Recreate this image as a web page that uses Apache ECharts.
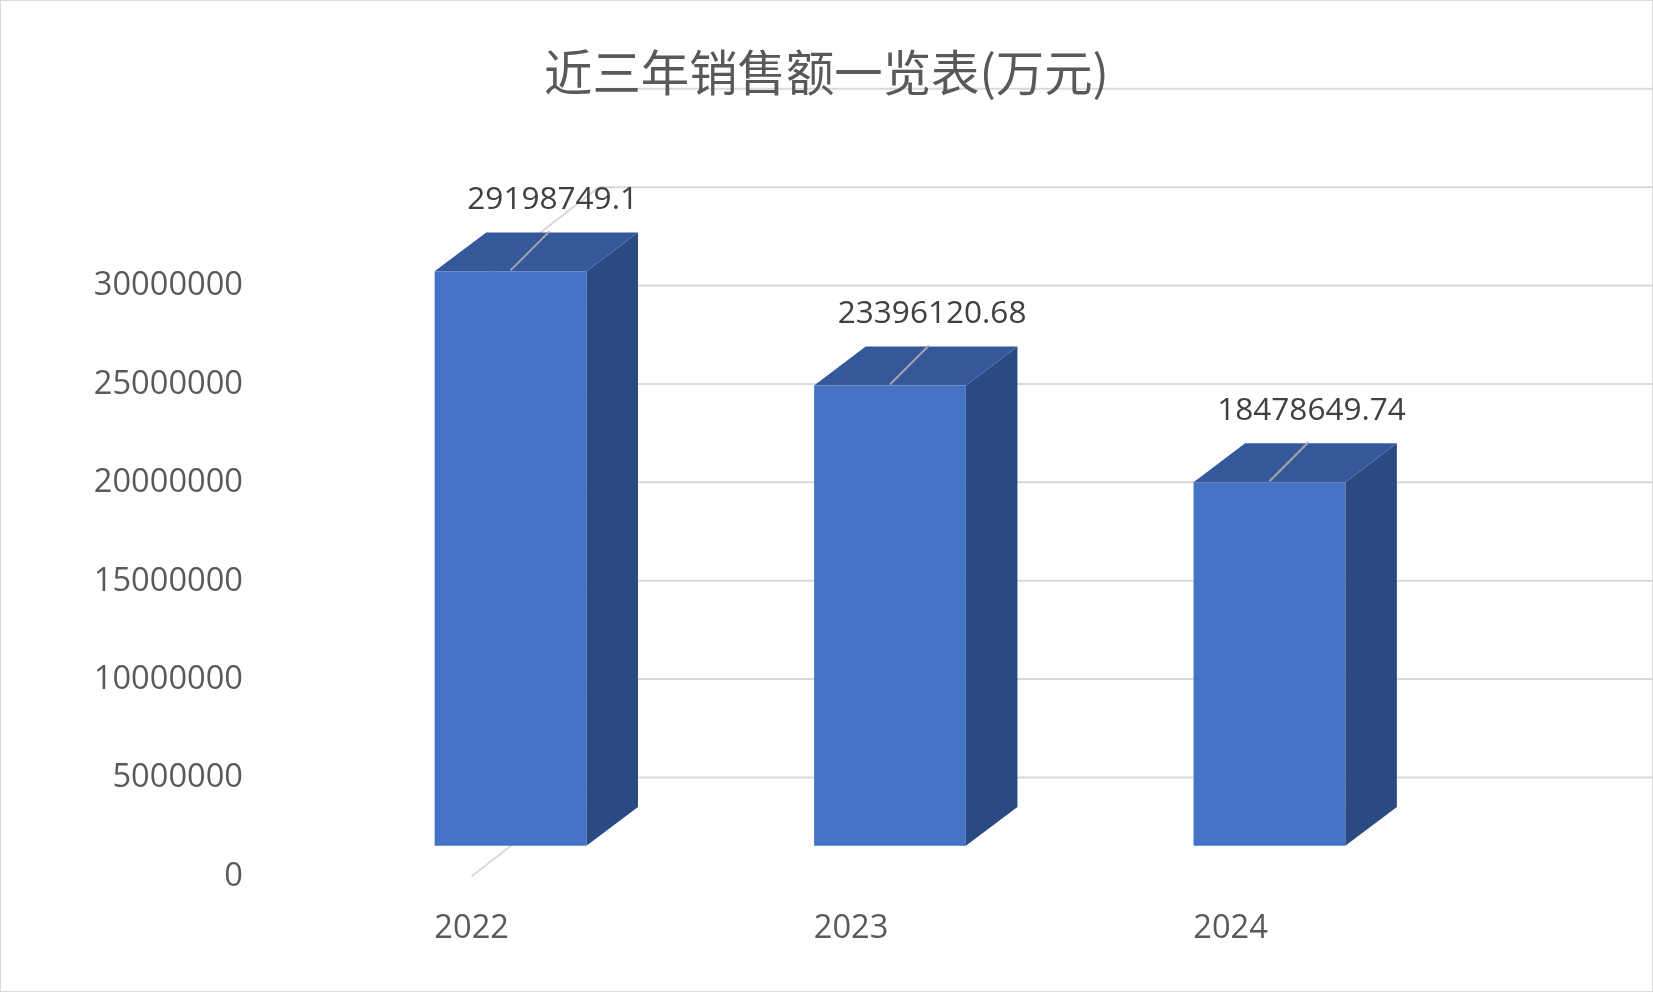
<!DOCTYPE html>
<html lang="zh">
<head>
<meta charset="UTF-8">
<title>近三年销售额一览表</title>
<script src="https://cdn.jsdelivr.net/npm/echarts@6/dist/echarts.min.js"></script>
<style>
    html, body { margin: 0; padding: 0; background: #fff; }
    #chart { width: 1651px; height: 990px; border: 1px solid #d9d9d9; }
</style>
</head>
<body>
<div id="chart"></div>
<script type="text/javascript">
    // 数据
    let years = ['2022', '2023', '2024'];
    let sales = [29198749.1, 23396120.68, 18478649.74];
    let salesText = ['29198749.1', '23396120.68', '18478649.74'];
    let ticks = [0, 5000000, 10000000, 15000000, 20000000, 25000000, 30000000, 35000000];

    let myChart = echarts.init(document.getElementById('chart'));
    let s = 990 / 941;   // 参考图缩放

    // 背景墙: 斜线 + 横线
    function renderWall(params, api) {
        let v = api.value(1);
        let a = api.coord([-0.5, v]);
        let b = api.coord([2.5, v]);
        let dx = 121 * s, dy = -94 * s;
        let style = { stroke: '#d9d9d9', lineWidth: 2, fill: null };
        let pts = [[a[0], a[1]], [a[0] + dx, a[1] + dy], [b[0] + dx, b[1] + dy]];
        if (v === 35000000) pts = [[a[0] + dx, a[1] + dy], [b[0] + dx, b[1] + dy]];
        return { type: 'polyline', shape: { points: pts }, style: style, silent: true };
    }

    // 立体柱
    function renderBar(params, api) {
        let i = api.value(0);
        let p0 = api.coord([i, 0]);
        let p1 = api.coord([i, api.value(1)]);
        let band = api.size([1, 0])[0];
        let w = band * 0.4;
        let ox = 37 * s, oy = -29 * s;      // 柱正面相对前平面的偏移
        let ddx = 49 * s, ddy = -37 * s;    // 柱的厚度
        let x1 = p0[0] + ox - w / 2, x2 = x1 + w;
        let yb = p0[1] + oy, yt = p1[1] + oy;
        let cx = (x1 + x2) / 2;
        return {
            type: 'group',
            children: [
                { type: 'polygon', shape: { points: [[x2, yb], [x2 + ddx, yb + ddy], [x2 + ddx, yt + ddy], [x2, yt]] }, style: { fill: '#2c4a82' } },
                { type: 'polygon', shape: { points: [[x1, yt], [x1 + ddx, yt + ddy], [x2 + ddx, yt + ddy], [x2, yt]] }, style: { fill: '#34589a' } },
                { type: 'rect', shape: { x: x1, y: yt, width: w, height: yb - yt }, style: { fill: '#4472c4' } },
                { type: 'line', shape: { x1: cx, y1: yt - 1, x2: cx + 37 * s, y2: yt - 38 * s }, style: { stroke: '#a6a6a6', lineWidth: 2 } },
                { type: 'text', x: cx + 40 * s, y: yt - 68 * s, style: {
                    text: salesText[params.dataIndex], fill: '#404040', font: (30 * s) + 'px "Open Sans", sans-serif',
                    align: 'center', verticalAlign: 'middle' } }
            ]
        };
    }

    let option = {
        animation: false,
        title: {
            text: '近三年销售额一览表(万元)',
            left: 'center',
            top: 40 * s,
            textStyle: { fontSize: 46 * s, fontWeight: 'normal', color: '#595959', fontFamily: '"Noto Sans CJK SC", sans-serif' }
        },
        grid: {
            left: 267 * s,
            right: 1651 - 1349 * s,
            top: 177.5 * s,
            bottom: 990 - 832 * s
        },
        xAxis: {
            type: 'category',
            data: years,
            axisLine: { show: false },
            axisTick: { show: false },
            axisLabel: { margin: 34 * s, fontSize: 31 * s, color: '#595959', fontFamily: '"Open Sans", sans-serif' }
        },
        yAxis: {
            type: 'value',
            min: 0,
            max: 35000000,
            interval: 5000000,
            splitLine: { show: false },
            axisLabel: {
                margin: 37 * s, fontSize: 31 * s, color: '#595959', fontFamily: '"Open Sans", sans-serif',
                formatter: function (v) { return v === 35000000 ? '' : String(v); }
            }
        },
        series: [
            {
                type: 'custom',
                renderItem: renderWall,
                data: ticks.map(function (t) { return [0, t]; }),
                z: 1
            },
            {
                type: 'custom',
                renderItem: renderBar,
                data: sales.map(function (v, i) { return [i, v]; }),
                z: 2
            }
        ]
    };
    myChart.setOption(option);
</script>
</body>
</html>
